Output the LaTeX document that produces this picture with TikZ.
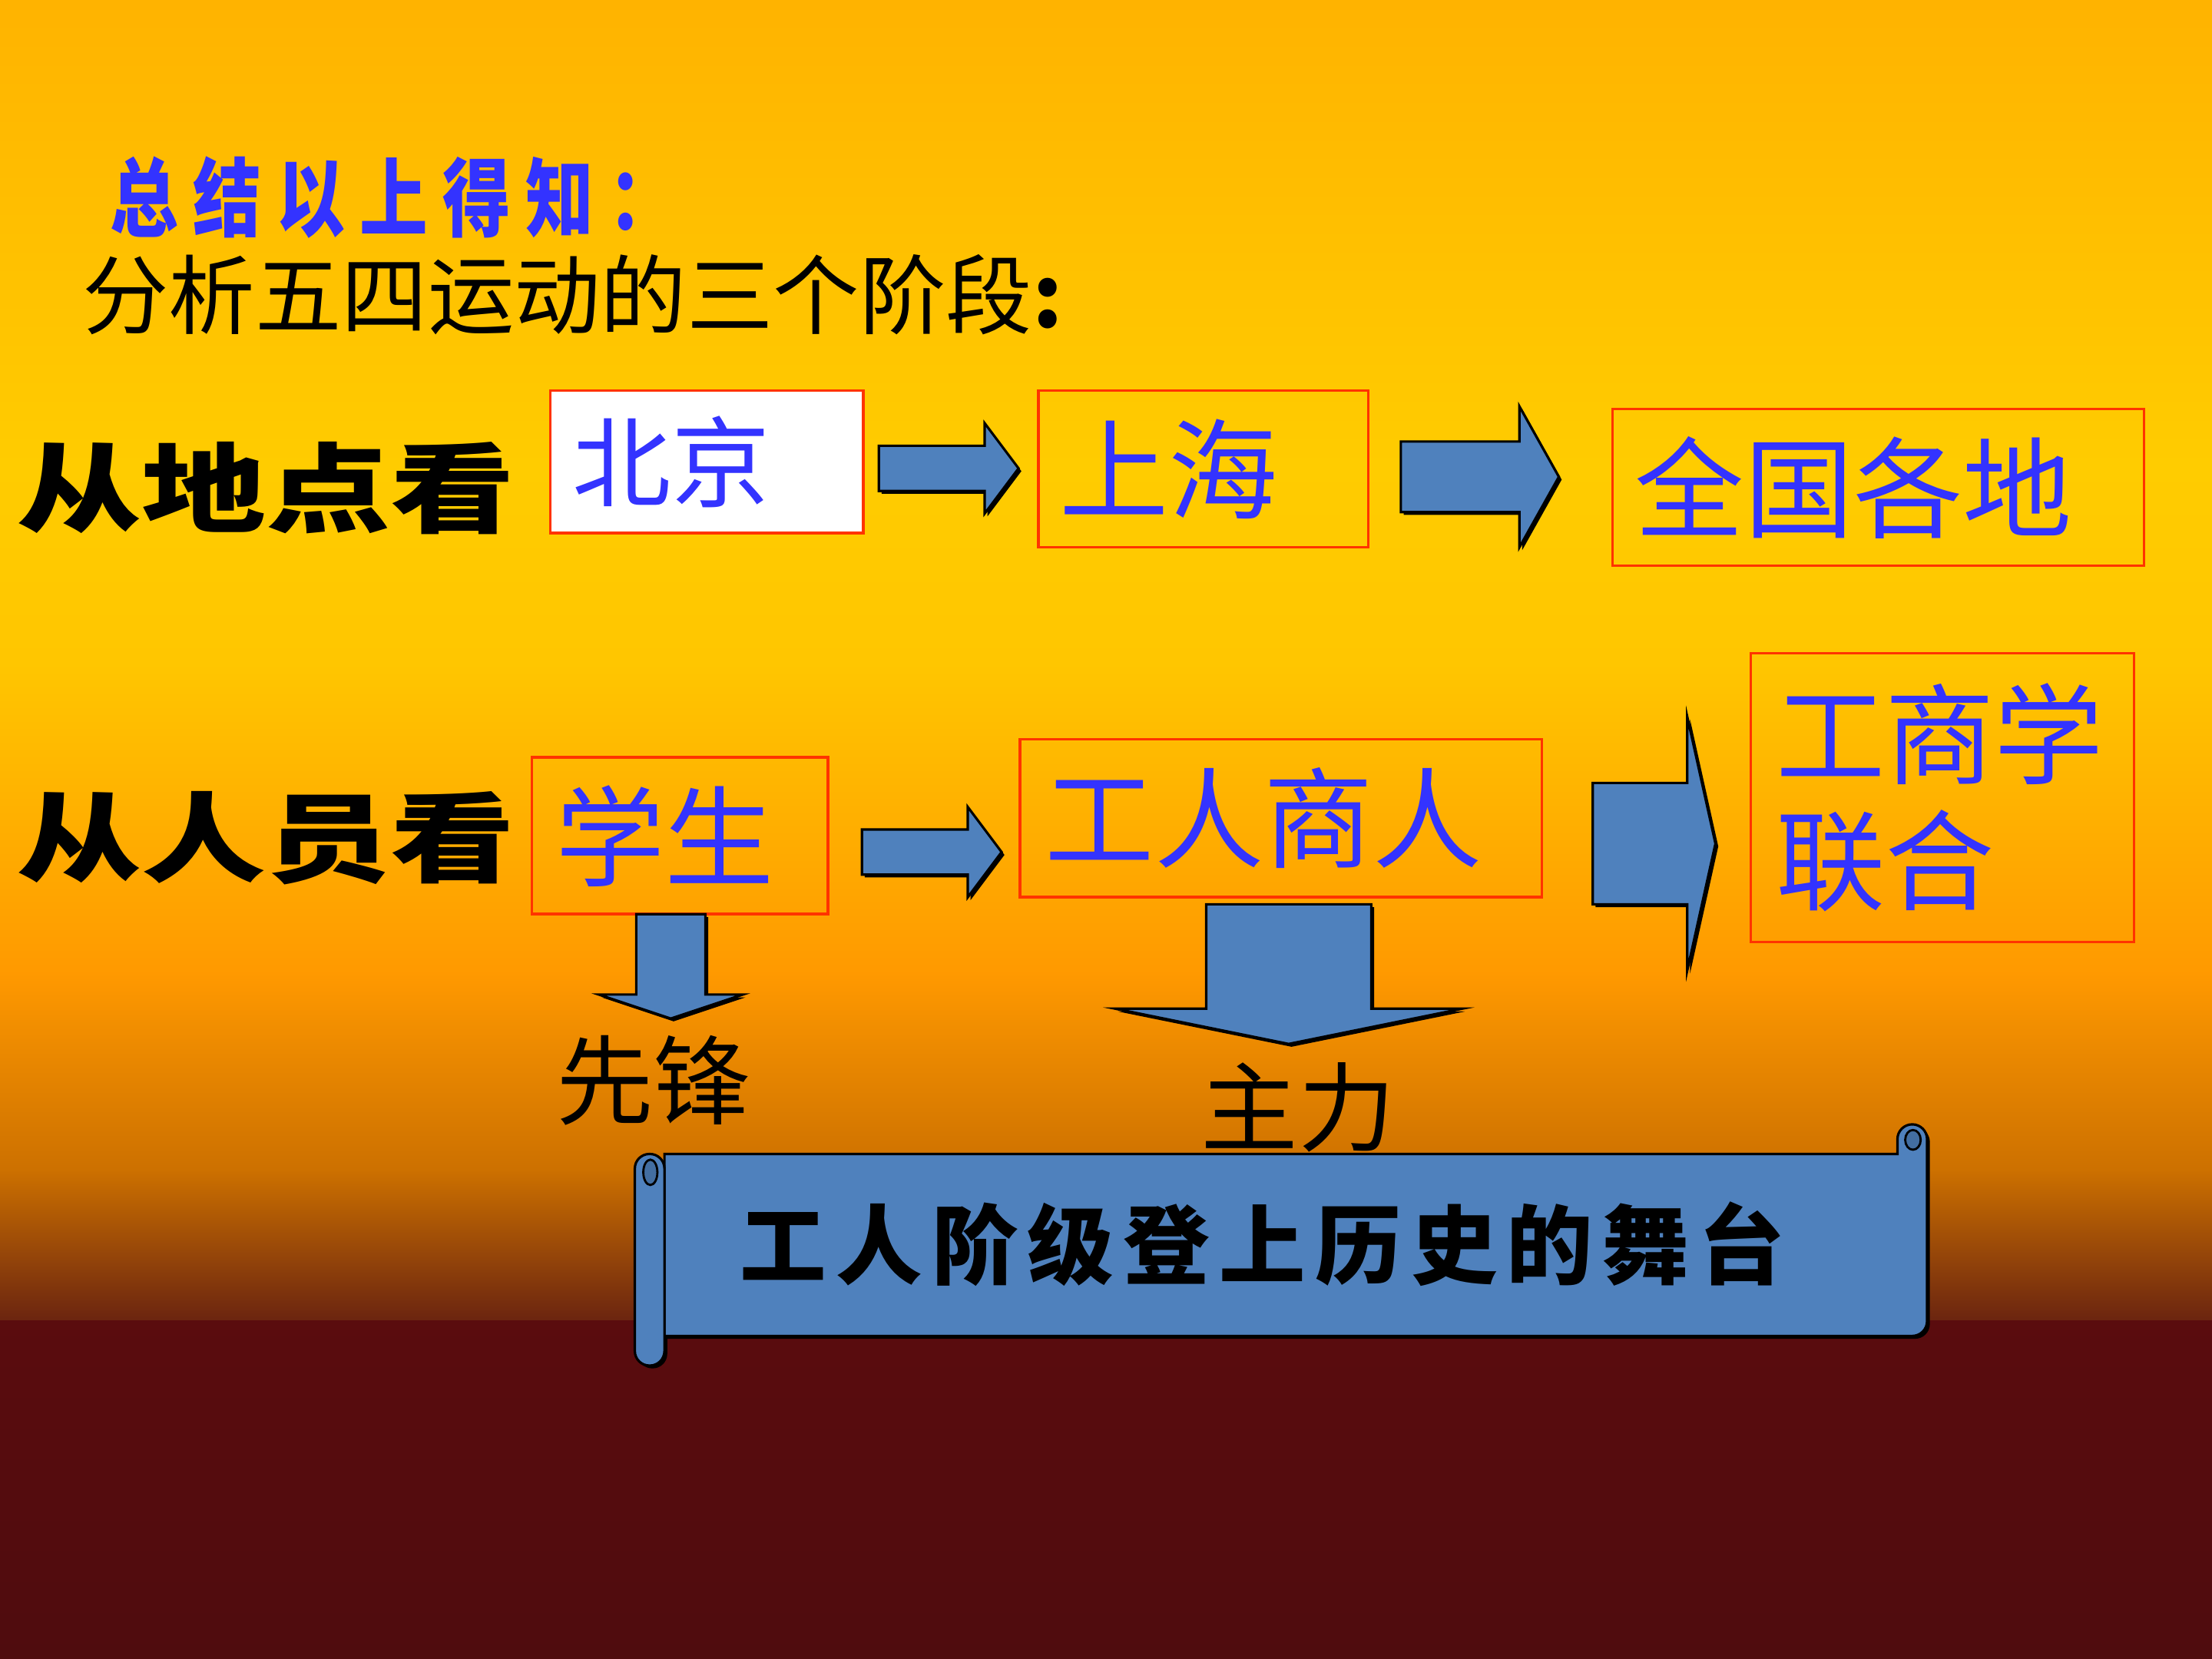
\documentclass[tikz,border=0pt]{standalone}
\usepackage{fontspec}
\newfontfamily\cjk{Noto Sans CJK SC}
\definecolor{tblue}{HTML}{3333FF}
\definecolor{boxred}{HTML}{FF3300}
\definecolor{ablue}{HTML}{4F81BD}
\definecolor{bgA}{HTML}{FFB300}
\definecolor{bgB}{HTML}{FFCC00}
\definecolor{bgC}{HTML}{FFC600}
\definecolor{bgD}{HTML}{FF9900}
\definecolor{bgE}{HTML}{CC7000}
\definecolor{bgF}{HTML}{6A2410}
\definecolor{bgG}{HTML}{5A0C0E}
\definecolor{bgH}{HTML}{4F0C0E}
\begin{document}
\begin{tikzpicture}[x=0.018367cm, y=-0.018367cm,
  tbox/.style={draw=boxred, line width=1pt, anchor=north west, inner ysep=0pt, align=left,
    text=tblue, font=\cjk\fontsize{40.5}{46.5}\selectfont},
  rowlabel/.style={anchor=west, inner sep=0pt, text=black, font=\cjk\bfseries\fontsize{36}{40}\selectfont},
  plainlabel/.style={anchor=west, inner sep=0pt, text=black, font=\cjk\fontsize{36}{40}\selectfont},
  blockarrow/.style={fill=ablue, draw=black, line width=0.9pt, line join=miter},
  shadowfill/.style={fill=black, shift={(2,2)}},
  scrollshape/.style={fill=ablue, draw=black, line width=0.9pt},
  curl/.style={fill=ablue!85!black, draw=black, line width=0.8pt}]
\useasboundingbox (0,0) rectangle (1568,1176);
% background
\fill[top color=bgA, bottom color=bgB] (0,0) rectangle (1568,331);
\fill[top color=bgB, bottom color=bgC] (0,330) rectangle (1568,471);
\fill[top color=bgC, bottom color=bgD] (0,470) rectangle (1568,691);
\fill[top color=bgD, bottom color=bgE] (0,690) rectangle (1568,831);
\fill[top color=bgE, bottom color=bgF] (0,830) rectangle (1568,937);
\fill[top color=bgG, bottom color=bgH] (0,936) rectangle (1568,1176);

% headings
\node[anchor=west, inner sep=0pt, text=tblue,
  font=\cjk\bfseries\fontsize{26}{30}\selectfont\addfontfeature{LetterSpace=22}] (summary) at (78,140) {\scalebox{0.97}[1.22]{总结以上得知：}};
\node[anchor=west, inner sep=0pt, text=black,
  font=\cjk\fontsize{32}{36}\selectfont] (analysis) at (58,209) {分析五四运动的三个阶段\textbf{:}};

% row labels
\node[rowlabel] (place) at (12,346) {\scalebox{1.28}[1]{从地点看}};
\node[rowlabel] (people) at (12,594) {\scalebox{1.28}[1]{从人员看}};

% boxes row 1
\node[tbox, fill=white, inner xsep=8.4pt, text width=99.2pt, minimum height=52.8pt,
  font=\cjk\fontsize{36.5}{42}\selectfont] (beijing) at (389,276) {北京};
\node[tbox, inner xsep=7.8pt, text width=106.7pt, minimum height=58pt] (shanghai) at (735,276) {上海};
\node[tbox, inner xsep=8.4pt, text width=180.2pt, minimum height=58pt] (nation) at (1142,289) {全国各地};
% boxes row 2
\node[tbox, inner xsep=8.9pt, text width=91.9pt, minimum height=58pt] (students) at (376,536) {学生};
\node[tbox, inner xsep=9.4pt, text width=174.6pt, minimum height=58.5pt] (workers) at (722,523) {工人商人};
\node[tbox, inner xsep=9.4pt, text width=123.3pt, minimum height=107.1pt] (union) at (1240,462) {工商学\\联合};

% labels under arrows
\node[plainlabel] (vanguard) at (394,766) {先锋};
\node[plainlabel] (mainforce) at (851,785) {主力};

% horizontal block arrows
\foreach \xa/\xh/\xt/\yc/\s/\h in {623/698/722/332/16/32, 993/1077/1105/338/25/50, 611/686/710/604/16/32, 1129/1196/1216/598/43/90}{
  \fill[shadowfill] (\xa,{\yc-\s}) -- (\xh,{\yc-\s}) -- (\xh,{\yc-\h}) -- (\xt,\yc) -- (\xh,{\yc+\h}) -- (\xh,{\yc+\s}) -- (\xa,{\yc+\s}) -- cycle;
  \path[blockarrow] (\xa,{\yc-\s}) -- (\xh,{\yc-\s}) -- (\xh,{\yc-\h}) -- (\xt,\yc) -- (\xh,{\yc+\h}) -- (\xh,{\yc+\s}) -- (\xa,{\yc+\s}) -- cycle;
}
% vertical block arrows
\foreach \xc/\ya/\yh/\yt/\s/\h in {475.5/648/705/722/24.5/51, 913.5/641/715/740/58.5/123}{
  \fill[shadowfill] ({\xc-\s},\ya) -- ({\xc-\s},\yh) -- ({\xc-\h},\yh) -- (\xc,\yt) -- ({\xc+\h},\yh) -- ({\xc+\s},\yh) -- ({\xc+\s},\ya) -- cycle;
  \path[blockarrow] ({\xc-\s},\ya) -- ({\xc-\s},\yh) -- ({\xc-\h},\yh) -- (\xc,\yt) -- ({\xc+\h},\yh) -- ({\xc+\s},\yh) -- ({\xc+\s},\ya) -- cycle;
}

% scroll
\fill[shadowfill] (471,818) -- (1345,818) -- (1345,807.5) arc[start angle=180,end angle=360,radius=10.5] -- (1366,936.5) arc[start angle=0,end angle=90,radius=10.5] -- (471,947) -- cycle;
\fill[shadowfill, rounded corners=5.4pt] (450,818) rectangle (471,968);
\path[scrollshape] (471,818) -- (1345,818) -- (1345,807.5) arc[start angle=180,end angle=360,radius=10.5] -- (1366,936.5) arc[start angle=0,end angle=90,radius=10.5] -- (471,947) -- cycle;
\path[scrollshape, rounded corners=5.4pt] (450,818) rectangle (471,968);
\path[curl] (461,831) ellipse [x radius=5, y radius=9];
\path[curl] (1356,808) ellipse [x radius=5.5, y radius=7];
\node[inner sep=0pt, text=black,
  font=\cjk\bfseries\fontsize{32}{36}\selectfont\addfontfeature{LetterSpace=11}] (stage) at (895,882) {工人阶级登上历史的舞台};
\end{tikzpicture}
\end{document}
